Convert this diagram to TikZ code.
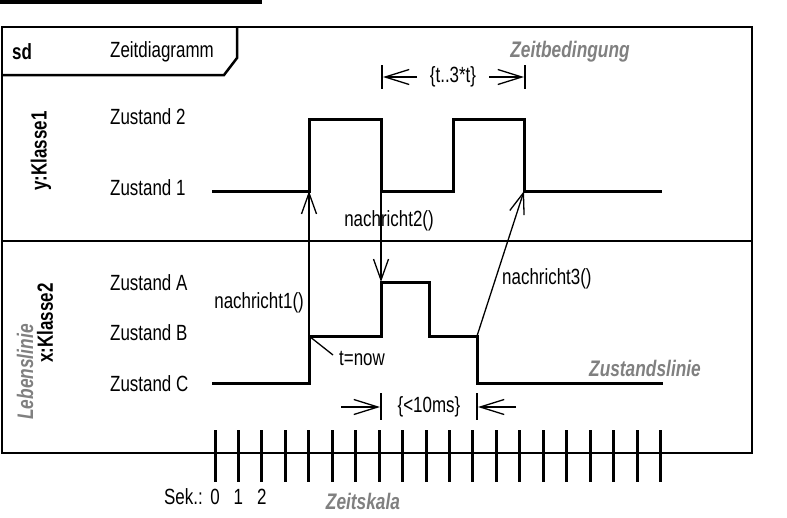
\documentclass[tikz,border=0pt]{standalone}
\usepackage{fontspec}
\setmainfont{Liberation Sans}[FakeStretch=0.77]
\usetikzlibrary{arrows.meta,positioning,calc}
\definecolor{notegrey}{RGB}{128,128,128}
\tikzset{
frameline/.style={line width=2.5pt,line join=miter},
stateline/.style={line width=3pt,line join=miter},
thinline/.style={line width=1.3pt},
msgline/.style={line width=1.3pt,-{Straight Barb[length=21pt,width=15pt]}},
boundline/.style={line width=1.3pt,-{Straight Barb[length=24pt,width=15pt]}},
scaletick/.style={line width=3pt},
txt/.style={font=\fontsize{22}{25}\selectfont,inner sep=0pt},
boldtxt/.style={font=\fontsize{22}{25}\selectfont\bfseries,inner sep=0pt},
notetxt/.style={font=\fontsize{22.5}{25}\selectfont\bfseries\itshape,text=notegrey,inner sep=0pt}
}

\begin{document}
\begin{tikzpicture}[x=1pt,y=-1pt]
\useasboundingbox (0,0) rectangle (787,517);
% cut-off title bar
\fill (0,0) rectangle (262,4);
% frame with header
\draw[frameline] (2,27) rectangle (752,453);
\draw[frameline] (2,75) -- (224,75) -- (237,58) -- (237,27);
\draw[frameline] (2,241) -- (752,241);
\node[boldtxt,anchor=west] (sd) at (12,52) {sd};
\node[txt,anchor=west] (title) at (110,52) {Zeitdiagramm};
% lifelines
\node[boldtxt,rotate=90] (klasse1) at (41,151) {y:Klasse1};
\node[boldtxt,rotate=90] (klasse2) at (45,323) {x:Klasse2};
\node[notetxt,rotate=90] (lebenslinie) at (25,372) {Lebenslinie};
% states
\node[txt,anchor=west] (z2) at (110,117) {Zustand 2};
\node[txt,anchor=west] (z1) at (110,188) {Zustand 1};
\node[txt,anchor=west] (za) at (110,283) {Zustand A};
\node[txt,anchor=west] (zb) at (110,333) {Zustand B};
\node[txt,anchor=west] (zc) at (110,384) {Zustand C};
% state line y:Klasse1
\coordinate (ka) at (212,191);
\coordinate (kb) at (309,191);
\coordinate (kc) at (309,119);
\coordinate (kd) at (381,119);
\coordinate (ke) at (381,191);
\coordinate (kf) at (453,191);
\coordinate (kg) at (453,119);
\coordinate (kh) at (524,119);
\coordinate (ki) at (524,191);
\coordinate (kj) at (662,191);
\draw[stateline] (ka) -- (kb) -- (kc) -- (kd) -- (ke) -- (kf) -- (kg) -- (kh) -- (ki) -- (kj);
% state line x:Klasse2
\coordinate (xa) at (212,383);
\coordinate (xb) at (309,383);
\coordinate (xc) at (309,336);
\coordinate (xd) at (381,336);
\coordinate (xe) at (381,282);
\coordinate (xf) at (429,282);
\coordinate (xg) at (429,336);
\coordinate (xh) at (477,336);
\coordinate (xi) at (477,383);
\coordinate (xj) at (663,383);
\draw[stateline] (xa) -- (xb) -- (xc) -- (xd) -- (xe) -- (xf) -- (xg) -- (xh) -- (xi) -- (xj);
% messages
\draw[msgline] (xc) -- (kb);
\draw[msgline] (ke) -- (xe);
\draw[msgline] (xh) -- (ki);
\node[txt,anchor=east] (n1) at (304,303) {nachricht1()};
\node[txt] (n2) at (389,221) {nachricht2()};
\node[txt,anchor=west] (n3) at (502,279) {nachricht3()};
% t=now
\coordinate (now) at (333,355);
\draw[thinline] (xc) -- (now);
\node[txt,anchor=west] (tnow) at (339,358) {t=now};
% time constraint top
\coordinate (b1) at (382,77);
\coordinate (b2) at (525,77);
\draw[thinline] ($(b1)+(0,-12)$) -- ($(b1)+(0,12)$);
\draw[thinline] ($(b2)+(0,-12)$) -- ($(b2)+(0,12)$);
\node[txt] (bt) at (453,77) {\{t..3*t\}};
\coordinate (bl) at (417,77);
\coordinate (br) at (489,77);
\draw[boundline] (bl) -- ($(b1)+(1,0)$);
\draw[boundline] (br) -- ($(b2)+(-1,0)$);
% time constraint bottom
\coordinate (c1) at (381,407);
\coordinate (c2) at (477,407);
\draw[thinline] ($(c1)+(0,-14)$) -- ($(c1)+(0,13)$);
\draw[thinline] ($(c2)+(0,-14)$) -- ($(c2)+(0,13)$);
\node[txt] (ct) at (429,407) {\{<10ms\}};
\coordinate (cl) at (341,407);
\coordinate (cr) at (516,407);
\draw[boundline] (cl) -- ($(c1)+(-1,0)$);
\draw[boundline] (cr) -- ($(c2)+(1,0)$);
% notes
\node[notetxt] (zbed) at (570,52) {Zeitbedingung};
\node[notetxt] (zlin) at (645,368) {Zustandslinie};
% time scale
\foreach \i in {0,...,19}
  \draw[scaletick] (215+23.45*\i,430) -- (215+23.45*\i,482);
\node[txt,anchor=east] (sek) at (203,497) {Sek.:};
\foreach \i in {0,1,2}
  \node[txt] (s\i) at (215+23.45*\i,497) {\i};
\node[notetxt] (zs) at (363,501) {Zeitskala};
\end{tikzpicture}
\end{document}
